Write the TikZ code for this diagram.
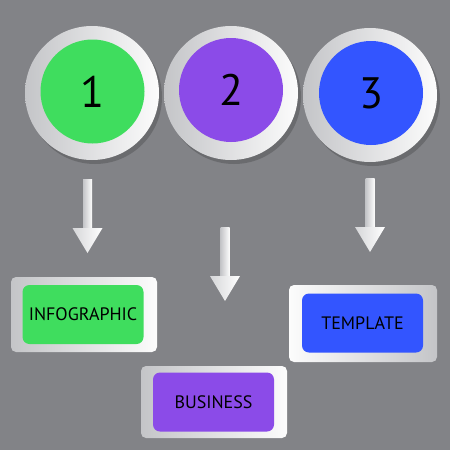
\documentclass[tikz,border=0pt]{standalone}
\usepackage{fontspec}
\setmainfont{PT Sans}
\definecolor{bg}{RGB}{130,131,135}
\definecolor{cgreen}{RGB}{63,221,94}
\definecolor{cpurple}{RGB}{139,75,232}
\definecolor{cblue}{RGB}{51,85,255}
\definecolor{rimdark}{RGB}{196,197,200}
\definecolor{rimlight}{RGB}{252,252,252}
\tikzset{
  ring/.style={circle, minimum size=134, inner sep=0, left color=rimdark, right color=rimlight},
  ringshadow/.style={circle, minimum size=134, inner sep=0, fill=black, opacity=0.18},
  disc/.style={circle, minimum size=104, inner sep=0, font=\fontsize{44}{44}\selectfont, text=black},
  plate/.style={rectangle, rounded corners=5, inner sep=0},
  card/.style={rectangle, rounded corners=7, inner sep=0, minimum width=121, minimum height=59, font=\fontsize{18}{18}\selectfont, text=black},
  shaftshade/.style={left color=rimdark, right color=rimlight},
}
\newcommand{\downarr}[4]{%
  \shade[shaftshade] (#1-4.5,#2) rectangle (#1+4.5,#3);
  \shade[left color=rimdark!70!white, right color=white] (#1-15,#3) -- (#1+15,#3) -- (#1,#4) -- cycle;
}
\begin{document}
\begin{tikzpicture}[x=1pt,y=-1pt]
\fill[bg] (0,0) rectangle (450,450);
\useasboundingbox (0,0) rectangle (450,450);
% ring shadows
\node[ringshadow] at (95,97) {};
\node[ringshadow] at (234,97) {};
\node[ringshadow] at (373,99) {};
% rings
\node[ring] (r1) at (92,93) {};
\node[ring] (r2) at (231,93) {};
\node[ring] (r3) at (370,95) {};
% discs
\node[disc, fill=cgreen] (n1) at (92.5,91.5) {1};
\node[disc, fill=cpurple] (n2) at (231,90) {2};
\node[disc, fill=cblue] (n3) at (371,93) {3};
% arrows
\downarr{87.5}{179}{228}{253}
\downarr{225}{227}{276}{301}
\downarr{370}{178}{227}{252}
% plates
\node[plate, minimum width=146, minimum height=75, left color=rimdark, right color=rimlight] (p1) at (84,314.5) {};
\node[plate, minimum width=146, minimum height=72, left color=rimdark, right color=rimlight] (p2) at (214,402) {};
\node[plate, minimum width=148, minimum height=77, left color=rimlight, right color=rimdark] (p3) at (363,323.5) {};
% cards
\node[card, fill=cgreen] (c1) at (83,314.5) {INFOGRAPHIC};
\node[card, fill=cpurple] (c2) at (213.5,402) {BUSINESS};
\node[card, fill=cblue] (c3) at (362.5,323) {TEMPLATE};
\end{tikzpicture}
\end{document}
